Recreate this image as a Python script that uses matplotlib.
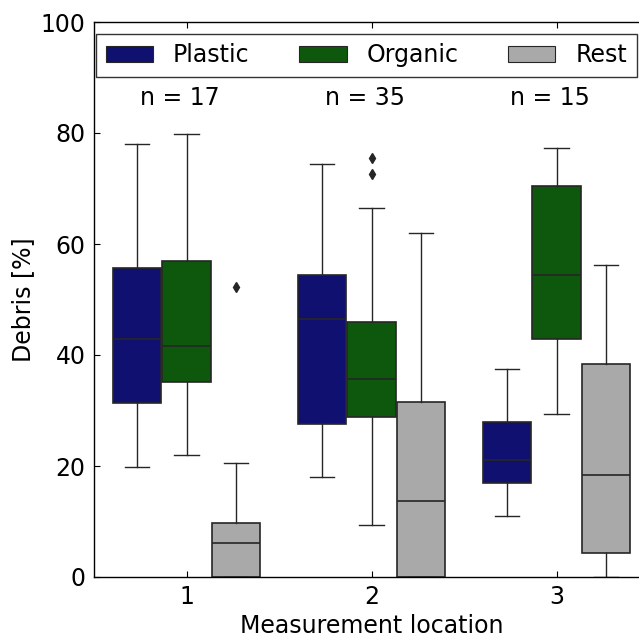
import matplotlib
matplotlib.use("Agg")
import matplotlib.pyplot as plt
from matplotlib.patches import Patch

# Values (percent)
locations = ["1", "2", "3"]
categories = ["Plastic", "Organic", "Rest"]
colors = ["#101070", "#0d580d", "#a9a9a9"]
counts = [17, 35, 15]

# [whislo, q1, median, q3, whishi] per location, per category
plastic = [[19.9, 31.3, 42.8, 55.6, 78.0],
           [18.0, 27.5, 46.5, 54.4, 74.5],
           [11.0, 16.9, 21.1, 28.0, 37.4]]
organic = [[21.9, 35.1, 41.6, 56.9, 79.9],
           [9.4, 28.8, 35.6, 45.9, 66.4],
           [29.4, 42.9, 54.4, 70.5, 77.3]]
rest = [[0.0, 0.0, 6.2, 9.8, 20.5],
        [0.0, 0.0, 13.7, 31.5, 61.9],
        [0.0, 4.3, 18.4, 38.3, 56.3]]
plastic_fliers = [[], [], []]
organic_fliers = [[], [72.6, 75.5], []]
rest_fliers = [[52.3], [], []]

series = [plastic, organic, rest]
fliers = [plastic_fliers, organic_fliers, rest_fliers]

fs = 17
plt.rcParams["font.family"] = "DejaVu Sans"
plt.rcParams["font.size"] = fs

fig = plt.figure(figsize=(6.39, 6.37), dpi=100)
ax = fig.add_axes([94 / 639, 60 / 637, 555 / 639, 555 / 637])

edge = "#262626"
width = 0.8
nested = width / len(categories)
for j, (vals, fl) in enumerate(zip(series, fliers)):
    stats = []
    for v, f in zip(vals, fl):
        stats.append(dict(whislo=v[0], q1=v[1], med=v[2], q3=v[3], whishi=v[4], fliers=f))
    pos = [i - width / 2 + nested * (j + 0.5) for i in range(len(locations))]
    ax.bxp(stats, positions=pos, widths=nested * 0.98, patch_artist=True,
           boxprops=dict(facecolor=colors[j], edgecolor=edge, linewidth=1.2),
           whiskerprops=dict(color=edge, linewidth=1.0),
           capprops=dict(color=edge, linewidth=1.0),
           medianprops=dict(color=edge, linewidth=1.2),
           flierprops=dict(marker="d", markerfacecolor=edge, markeredgecolor=edge,
                           markersize=5, linestyle="none"),
           manage_ticks=False)

for i, n in enumerate(counts):
    ax.text(i - 0.035, 86.3, "n = %d" % n, ha="center", va="center", fontsize=fs)

ax.set_xlim(-0.5, 2.5)
ax.set_ylim(0, 100)
ax.set_xticks(range(len(locations)))
ax.set_xticklabels(locations)
ax.set_yticks([0, 20, 40, 60, 80, 100])
ax.tick_params(direction="in", top=True, right=True, length=4, pad=6, labelsize=fs)
ax.set_xlabel("Measurement location", fontsize=fs, labelpad=3.2)
ax.set_ylabel("Debris [%]", fontsize=fs, labelpad=3.8)
for s in ax.spines.values():
    s.set_linewidth(1.0)

handles = [Patch(facecolor=c, edgecolor=edge, linewidth=0.8) for c in colors]
leg = ax.legend(handles, categories, loc="upper center", ncol=3, fontsize=fs,
                fancybox=False, frameon=True, handlelength=2.0, handleheight=0.7,
                handletextpad=0.85, columnspacing=2.1, borderpad=0.4,
                borderaxespad=0.5, bbox_to_anchor=(0.491, 1.0))
leg.get_frame().set_edgecolor("black")
leg.get_frame().set_linewidth(1.0)

fig.savefig("out.png", dpi=100)
